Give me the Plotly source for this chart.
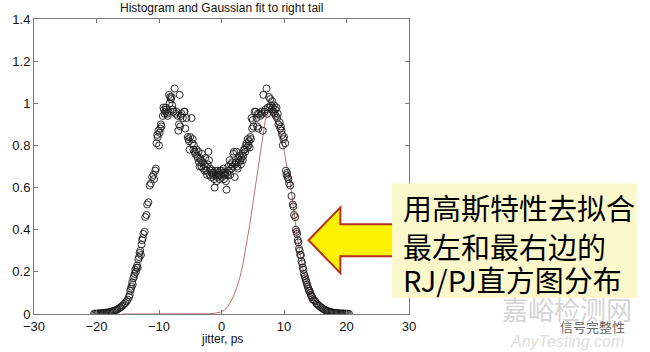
import plotly.graph_objects as go

# ---------------- data ----------------
left_tail_x = [-20.4,-20.2,-20.0,-19.8,-19.6,-19.4,-19.2,-19.0,-18.8,-18.6,-18.4,-18.2,-18.0,-17.8,
               -17.6,-17.4,-17.2,-17.0,-16.8,-16.6,-16.4,-16.2,-16.0,-15.8,-15.6,-15.4,-15.2,-15.0]
left_tail_y = [0.001,0.002,0.001,0.003,0.002,0.004,0.003,0.005,0.004,0.006,0.007,0.006,0.009,0.010,
               0.012,0.011,0.015,0.017,0.020,0.023,0.027,0.031,0.036,0.040,0.047,0.052,0.060,0.068]

left_rise_x = [-14.8,-14.7,-14.6,-14.5,-14.4,-14.3,-14.2,-14.1,-14.0,-13.9,-13.8,-13.7,-13.6,-13.5,
               -13.4,-13.3,-13.2,-13.1,-13.0,-12.9,-12.8,-12.7,-12.6,-12.5,-12.3,-12.2,-12.0,-11.9,
               -11.7,-11.5,-11.3,-11.1,-10.9,-10.8]
left_rise_y = [0.08,0.09,0.11,0.12,0.13,0.15,0.14,0.17,0.18,0.19,0.21,0.20,0.22,0.23,
               0.22,0.26,0.27,0.29,0.30,0.28,0.33,0.35,0.36,0.38,0.39,0.46,0.47,0.52,
               0.53,0.61,0.62,0.65,0.66,0.64]

left_peak_x = [-10.6,-10.5,-10.4,-10.3,-10.2,-10.1,-10.0,-9.9,-9.8,-9.7,-9.6,-9.4,-9.3,-9.2,-9.1,
               -9.0,-8.9,-8.8,-8.7,-8.6,-8.5,-8.4,-8.3,-8.2,-8.1,-8.0,-7.9,-7.8,-7.7,-7.5,-7.3,
               -7.2,-7.0,-6.9,-6.8,-6.7,-6.6,-6.5,-6.4,-6.2,-6.0,-5.9,-5.8,-5.6,-5.4,-5.3,-5.2,
               -5.1,-5.0,-4.8]
left_peak_y = [0.68,0.69,0.81,0.85,0.84,0.87,0.80,0.86,0.88,0.90,0.89,0.94,0.98,0.97,0.95,
               0.96,0.98,0.97,0.95,0.94,0.96,1.04,1.00,1.03,1.02,1.03,0.99,0.97,0.96,1.07,0.95,
               0.96,0.94,0.87,0.90,1.04,0.89,0.94,0.95,0.93,0.96,0.96,0.88,0.93,0.84,0.83,0.82,
               0.78,0.84,0.93]

valley_x = [-4.7,-4.6,-4.5,-4.4,-4.3,-4.2,-4.0,-3.9,-3.8,-3.7,-3.6,-3.5,-3.4,-3.3,-3.2,-3.1,-3.0,
            -2.9,-2.8,-2.7,-2.6,-2.5,-2.4,-2.3,-2.2,-2.1,-2.0,-1.9,-1.8,-1.7,-1.6,-1.5,-1.4,-1.3,
            -1.2,-1.1,-1.0,-0.9,-0.8,-0.7,-0.6,-0.5,-0.4,-0.3,-0.2,-0.1,0.0,0.1,0.2,0.3,0.4,0.5,
            0.6,0.7,0.8,0.9,1.0,1.1,1.2,1.3,1.4,1.5,1.6,1.7,1.8,1.9,2.0,2.1,2.2,2.3,2.4,2.5,2.6,
            2.7,2.8,2.9,3.0,3.1,3.2,3.3,3.4,3.5,3.6,3.7,3.8,3.9,4.0]
valley_y = [0.81,0.83,0.78,0.80,0.77,0.76,0.78,0.75,0.74,0.77,0.72,0.70,0.74,0.73,0.70,0.76,0.72,
            0.69,0.71,0.68,0.74,0.70,0.68,0.66,0.71,0.77,0.73,0.66,0.69,0.65,0.67,0.68,0.66,0.67,
            0.64,0.60,0.68,0.66,0.63,0.65,0.68,0.67,0.66,0.64,0.68,0.66,0.68,0.65,0.67,0.69,0.64,0.67,
            0.66,0.63,0.59,0.67,0.66,0.70,0.68,0.73,0.66,0.71,0.69,0.72,0.70,0.76,0.77,0.65,0.71,0.72,
            0.77,0.70,0.69,0.74,0.72,0.75,0.73,0.71,0.74,0.76,0.73,0.75,0.78,0.78,0.77,0.80,0.81]

right_peak_x = [4.1,4.2,4.3,4.4,4.5,4.6,4.7,4.8,4.9,5.0,5.1,5.3,5.5,5.6,5.7,5.8,5.9,6.0,6.2,6.4,
                6.5,6.6,6.7,6.9,7.0,7.2,7.3,7.4,7.6,7.7,7.8,7.9,8.0,8.1,8.2,8.3,8.4,8.5,8.6,8.7,
                8.8,8.9,9.0,9.1,9.3,9.4,9.5,9.6,9.7,9.8,9.9,10.0,10.2,10.3,10.4,10.5,10.6,10.7,
                10.8,11.0]
right_peak_y = [0.79,0.83,0.80,0.82,0.79,0.84,0.83,0.93,0.88,0.92,0.89,0.96,0.96,0.93,0.89,0.95,
                0.88,0.95,0.94,0.96,0.95,0.87,1.04,0.96,0.97,1.07,0.95,0.98,1.03,0.98,1.02,0.99,
                0.97,1.01,0.98,0.96,0.99,0.95,0.97,0.94,0.98,0.93,0.95,0.90,0.91,0.88,0.89,0.87,
                0.85,0.80,0.83,0.84,0.81,0.68,0.66,0.67,0.65,0.64,0.62,0.61]

right_fall_x = [11.2,11.4,11.5,11.6,11.8,11.9,12.0,12.1,12.2,12.3,12.4,12.5,12.6,12.7,12.8,12.9,
                13.0,13.1,13.2,13.3,13.4,13.5,13.6,13.7,13.8,13.9,14.0,14.1,14.2,14.3,14.4,14.5,
                14.6,14.8,15.0]
right_fall_y = [0.56,0.52,0.51,0.47,0.46,0.40,0.39,0.38,0.35,0.34,0.31,0.30,0.28,0.28,0.25,0.24,
                0.22,0.21,0.19,0.18,0.17,0.16,0.15,0.14,0.13,0.12,0.11,0.11,0.10,0.09,0.085,0.08,
                0.07,0.065,0.06]

right_tail_x = [15.2,15.4,15.6,15.8,16.0,16.2,16.4,16.6,16.8,17.0,17.2,17.4,17.6,17.8,18.0,18.2,
                18.4,18.6,18.8,19.0,19.2,19.4,19.6,19.8,20.0,20.2,20.4]
right_tail_y = [0.05,0.045,0.04,0.034,0.03,0.025,0.022,0.018,0.015,0.014,0.011,0.010,0.008,0.007,
                0.006,0.005,0.005,0.004,0.003,0.003,0.002,0.003,0.002,0.001,0.002,0.001,0.001]

fit_x = [-16,-10,-4,-2,-1,0,0.5,1,1.5,2,2.5,3,3.5,4,4.5,5,5.5,6,6.5,7,7.5,8,8.5,9,9.5,10,10.5,
         11,11.5,12,12.5,13,13.5,14,14.5,15,15.5,16,16.5,17,17.5,18]
fit_y = [0,0,0,0.001,0.004,0.01,0.02,0.035,0.06,0.09,0.13,0.18,0.25,0.33,0.42,0.52,0.62,0.73,
         0.84,0.92,0.96,0.96,0.93,0.88,0.84,0.78,0.69,0.62,0.51,0.39,0.30,0.22,0.16,0.11,0.08,
         0.06,0.04,0.025,0.015,0.008,0.003,0.0]

x_ticks = [-30, -20, -10, 0, 10, 20, 30]
y_ticks = [0, 0.2, 0.4, 0.6, 0.8, 1, 1.2, 1.4]
y_tick_text = ["0", "0.2", "0.4", "0.6", "0.8", "1", "1.2", "1.4"]

title_text = "Histogram and Gaussian fit to right tail"
x_label = "jitter, ps"
callout_lines = ["用高斯特性去拟合", "最左和最右边的", "RJ/PJ直方图分布"]

# ---------------- figure ----------------
W, H = 650, 352
L, R, T, B = 32, 409, 18, 314   # plot area in pixels


def px(x):
    return (x - L) / (R - L)


def py(y):
    return (B - y) / (B - T)


hist_x = left_tail_x + left_rise_x + left_peak_x + valley_x + right_peak_x + right_fall_x + right_tail_x
hist_y = left_tail_y + left_rise_y + left_peak_y + valley_y + right_peak_y + right_fall_y + right_tail_y

fig = go.Figure()
fig.add_trace(go.Scatter(
    x=fit_x, y=fit_y, mode="lines",
    line=dict(color="#c07070", width=1), hoverinfo="skip"))
fig.add_trace(go.Scatter(
    x=hist_x, y=hist_y, mode="markers",
    marker=dict(symbol="circle-open", size=7, color="#1a1a1a", line=dict(width=0.9, color="#1a1a1a"))))

axis_common = dict(showgrid=False, zeroline=False, showline=True, linecolor="#7a7a7a", linewidth=1,
                   mirror="ticks", ticks="inside", ticklen=4, tickcolor="#7a7a7a",
                   tickfont=dict(family="Liberation Sans, Arial", size=13, color="#111"))

fig.update_layout(
    width=W, height=H, showlegend=False,
    paper_bgcolor="white", plot_bgcolor="white",
    margin=dict(l=L, r=W - R, t=T, b=H - B),
    xaxis=dict(range=[-30, 30], tickvals=x_ticks, **axis_common),
    yaxis=dict(range=[0, 1.4], tickvals=y_ticks, ticktext=y_tick_text, **axis_common),
)

# title and axis label
annotations = [
    dict(text=title_text, xref="paper", yref="paper", x=0.5, y=py(7), xanchor="center", yanchor="middle",
         showarrow=False, font=dict(family="Liberation Sans, Arial", size=12, color="#111")),
    dict(text=x_label, xref="paper", yref="paper", x=0.5, y=py(339), xanchor="center", yanchor="middle",
         showarrow=False, font=dict(family="Liberation Sans, Arial", size=12, color="#111")),
]

# arrow (left-pointing) and callout box
tip = (308, 240)
pts = [tip, (340, 207), (340, 224), (396, 224), (396, 256), (340, 256), (340, 273)]
path = "M " + " L ".join(f"{px(a):.5f},{py(b):.5f}" for a, b in pts) + " Z"
shapes = [
    dict(type="path", xref="paper", yref="paper", path=path,
         fillcolor="#fff200", line=dict(color="#b5301f", width=2), layer="above"),
    dict(type="rect", xref="paper", yref="paper", x0=px(392), x1=px(638), y0=py(183), y1=py(298),
         fillcolor="#fbf9cc", line=dict(width=0), layer="above"),
]
line_centers = [207, 246, 279]
for txt, cy in zip(callout_lines, line_centers):
    annotations.append(dict(text=txt, xref="paper", yref="paper", x=px(401), y=py(cy),
                            xanchor="left", yanchor="middle", showarrow=False,
                            font=dict(family="Noto Sans CJK SC", size=29, color="#000")))

# watermarks
annotations += [
    dict(text="嘉峪检测网", xref="paper", yref="paper", x=px(568), y=py(308), xanchor="center",
         yanchor="middle", showarrow=False,
         font=dict(family="Noto Sans CJK SC", size=26, color="#d4d4d4")),
    dict(text="信号完整性", xref="paper", yref="paper", x=px(593), y=py(327), xanchor="center",
         yanchor="middle", showarrow=False,
         font=dict(family="Noto Sans CJK SC", size=13, color="#6a6a6a")),
    dict(text="<i>AnyTesting.com</i>", xref="paper", yref="paper", x=px(568), y=py(342), xanchor="center",
         yanchor="middle", showarrow=False,
         font=dict(family="Liberation Sans, Arial", size=16, color="#dedede")),
]

fig.update_layout(shapes=shapes, annotations=annotations)
fig.write_html("out.html")
